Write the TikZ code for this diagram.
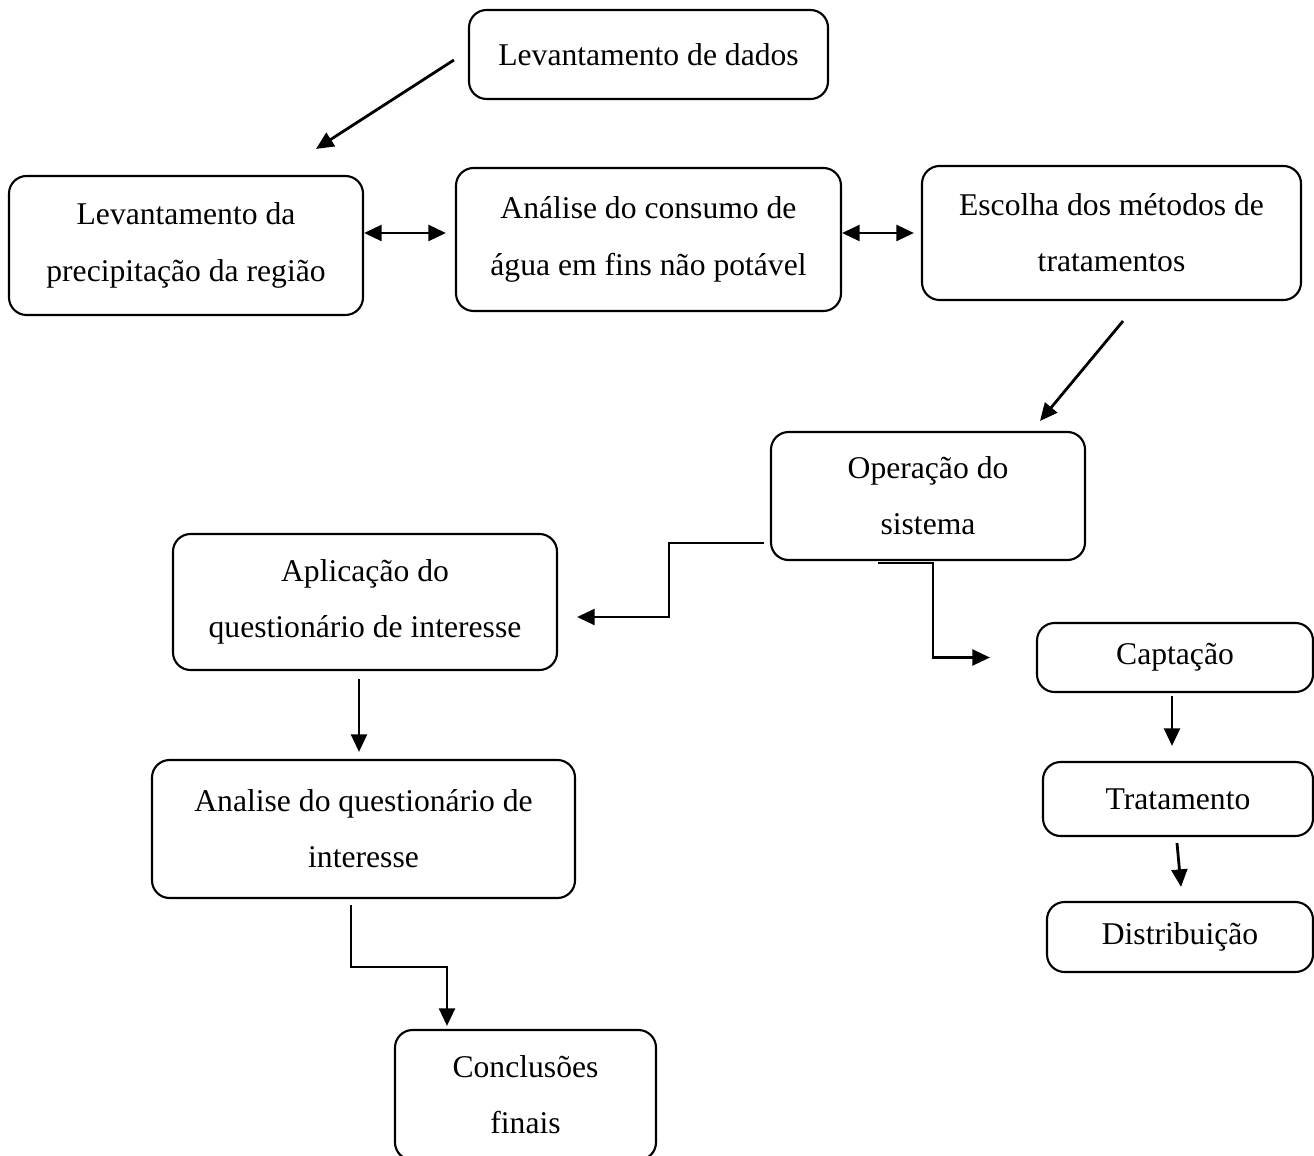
\documentclass[tikz,border=0pt]{standalone}
\usepackage{fontspec}
\setmainfont{Liberation Serif}
\usetikzlibrary{arrows.meta}

\begin{document}
\begin{tikzpicture}[
    box/.style={draw, line width=0.6pt, rounded corners=5pt, align=center,
        inner sep=0pt, font=\fontsize{9}{16}\selectfont},
    arr/.style={line width=0.8pt, -{Triangle[length=5pt,width=4.5pt]}},
    darr/.style={line width=0.8pt, {Triangle[length=5pt,width=4.5pt]}-{Triangle[length=5pt,width=4.5pt]}}
]

    % Fix the page size
    \useasboundingbox (0, 0) rectangle (13.14, -11.55);

    % Top row
    \node[box, minimum width=3.59cm, minimum height=0.89cm] (dados) at (6.485, -0.545) {Levantamento de dados};
    \node[box, minimum width=3.54cm, minimum height=1.39cm] (precip) at (1.86, -2.455) {Levantamento da\\precipitação da região};
    \node[box, minimum width=3.85cm, minimum height=1.43cm] (consumo) at (6.485, -2.395) {Análise do consumo de\\água em fins não potável};
    \node[box, minimum width=3.79cm, minimum height=1.34cm] (escolha) at (11.115, -2.33) {Escolha dos métodos de\\tratamentos};

    % Middle
    \node[box, minimum width=3.14cm, minimum height=1.28cm] (operacao) at (9.28, -4.96) {Operação do\\sistema};
    \node[box, minimum width=3.84cm, minimum height=1.36cm] (aplicacao) at (3.65, -6.02) {Aplicação do\\questionário de interesse};

    % Right column
    \node[box, minimum width=2.76cm, minimum height=0.69cm] (captacao) at (11.75, -6.575) {Captação};
    \node[box, minimum width=2.70cm, minimum height=0.74cm] (tratamento) at (11.78, -7.99) {Tratamento};
    \node[box, minimum width=2.66cm, minimum height=0.70cm] (distrib) at (11.80, -9.37) {Distribuição};

    % Left column
    \node[box, minimum width=4.23cm, minimum height=1.38cm] (analise) at (3.635, -8.29) {Analise do questionário de\\interesse};
    \node[box, minimum width=2.61cm, minimum height=1.30cm] (conclusoes) at (5.255, -10.95) {Conclusões\\finais};

    % Arrows
    \draw[arr] ([xshift=-0.14cm, yshift=-0.055cm]dados.west) -- ([xshift=1.30cm, yshift=0.26cm]precip.north);
    \draw[darr] (precip.east |- escolha.west) -- ([xshift=-0.09cm]consumo.west |- escolha.west);
    \draw[darr] (consumo.east |- escolha.west) -- ([xshift=-0.07cm]escolha.west);
    \draw[arr] ([xshift=0.115cm, yshift=-0.20cm]escolha.south) -- ([xshift=1.12cm, yshift=0.10cm]operacao.north);

    \draw[arr] ([xshift=-0.06cm, yshift=0.18cm]operacao.south west) -- ++(-0.95, 0) |- ([xshift=0.19cm, yshift=-0.15cm]aplicacao.east);
    \draw[arr] ([xshift=-0.50cm, yshift=-0.02cm]operacao.south) -- ++(0.55, 0) |- ([xshift=-0.46cm]captacao.west);

    \draw[arr] ([xshift=-0.03cm, yshift=-0.03cm]captacao.south) -- ([xshift=-0.06cm, yshift=0.15cm]tratamento.north);
    \draw[arr] ([xshift=-0.01cm, yshift=-0.06cm]tratamento.south) -- ([xshift=0.01cm, yshift=0.14cm]distrib.north);

    \draw[arr] ([xshift=-0.06cm, yshift=-0.08cm]aplicacao.south) -- ([xshift=-0.045cm, yshift=0.07cm]analise.north);
    \draw[arr] ([xshift=-0.125cm, yshift=-0.06cm]analise.south) -- ++(0, -0.62) -| ([xshift=-0.785cm, yshift=0.03cm]conclusoes.north);

\end{tikzpicture}
\end{document}
